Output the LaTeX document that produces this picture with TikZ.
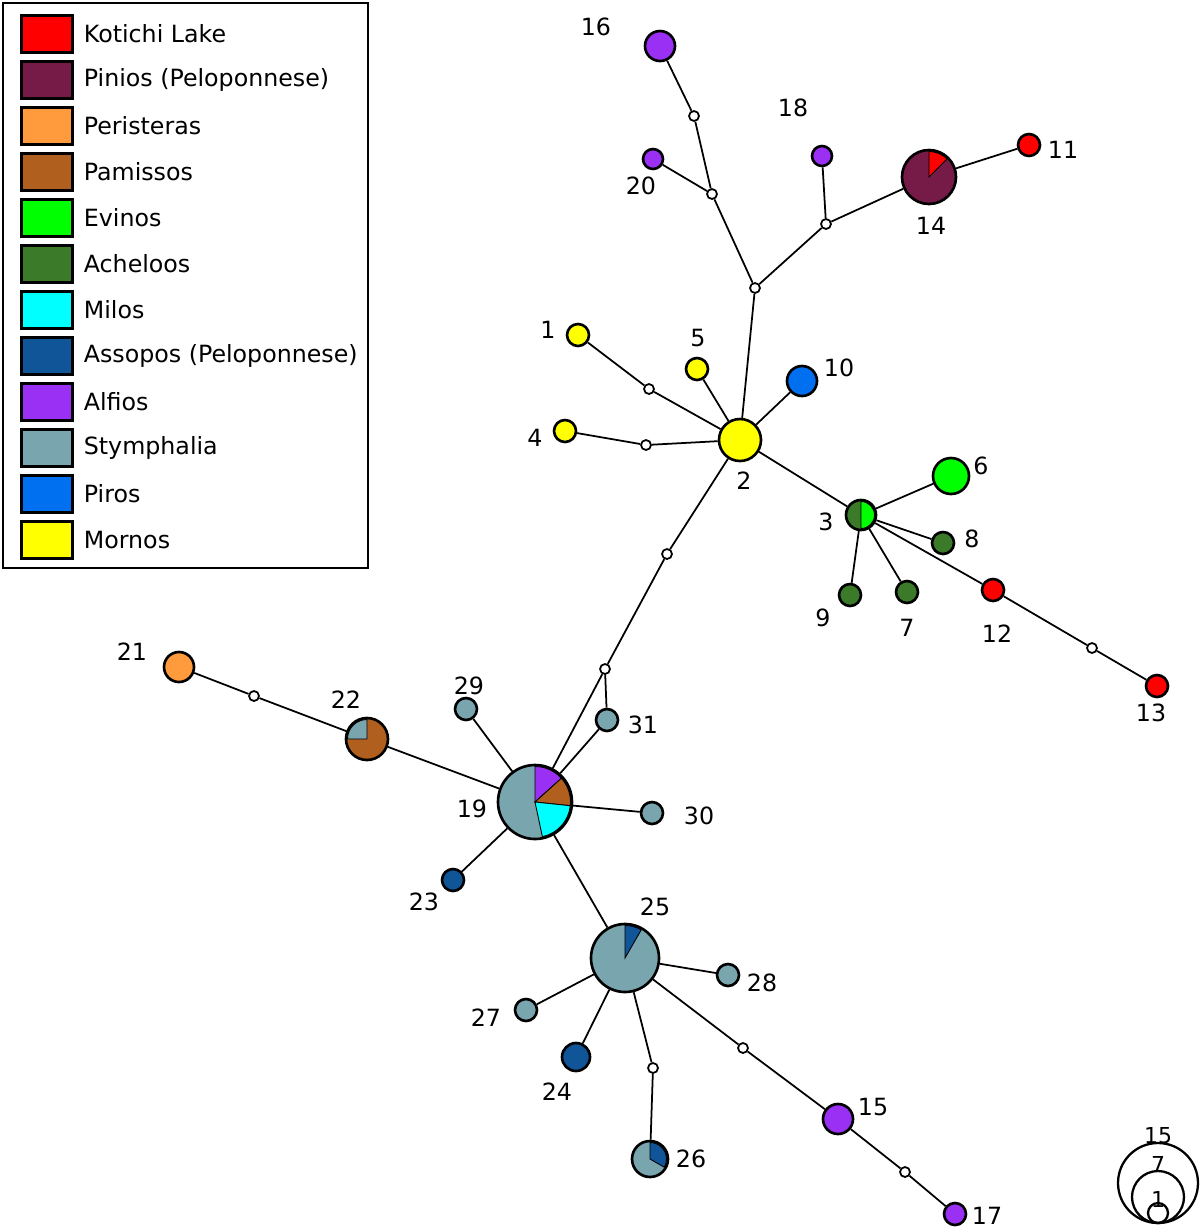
\documentclass[tikz,border=0pt]{standalone}
\usepackage{fontspec}
\setmainfont{DejaVu Sans}

\definecolor{kotichi}{HTML}{FF0000}
\definecolor{pinios}{HTML}{761A48}
\definecolor{peristeras}{HTML}{FF9B3D}
\definecolor{pamissos}{HTML}{B05F1F}
\definecolor{evinos}{HTML}{00FF00}
\definecolor{acheloos}{HTML}{3A7A28}
\definecolor{milos}{HTML}{00FFFF}
\definecolor{assopos}{HTML}{0F5597}
\definecolor{alfios}{HTML}{9B30F5}
\definecolor{stymph}{HTML}{79A5AF}
\definecolor{piros}{HTML}{0070F0}
\definecolor{mornos}{HTML}{FFFF00}

\tikzset{
    hap/.style={shape=circle, draw=black, line width=1.5pt, inner sep=0pt, minimum size=#1*0.02cm},
    mv/.style={shape=circle, draw=black, fill=white, line width=1pt, inner sep=0pt, minimum size=0.2cm},
    swatch/.style={shape=rectangle, draw=black, line width=1.3pt, inner sep=0pt, minimum width=1.02cm, minimum height=0.74cm},
    lbl/.style={font=\fontsize{13.5}{16}\selectfont, inner sep=0pt},
}
% one coloured wedge of a haplotype pie
\newcommand{\hapslice}[5]{\filldraw[fill=#5, draw=black, line width=0.5pt] (#1.center) -- ++(#2:#4) arc[start angle=#2, end angle=#3, radius=#4] -- cycle;}

\begin{document}
\begin{tikzpicture}[x=0.02cm, y=-0.02cm, line width=1pt]
                \useasboundingbox (0,0) rectangle (1200,1228);

                % haplotypes
                \node[hap=30, fill=alfios] (16) at (660,46) {};
                \node[hap=20, fill=alfios] (20) at (653,159) {};
                \node[hap=20, fill=alfios] (18) at (822,156) {};
                \node[hap=54, fill=pinios] (14) at (929,177) {};
                \node[hap=22, fill=kotichi] (11) at (1029,145) {};
                \node[hap=22, fill=mornos] (1) at (578,335) {};
                \node[hap=22, fill=mornos] (5) at (697,369) {};
                \node[hap=30, fill=piros] (10) at (802,381) {};
                \node[hap=22, fill=mornos] (4) at (565,431) {};
                \node[hap=42, fill=mornos] (2) at (740,440) {};
                \node[hap=30, fill=acheloos] (3) at (861,515) {};
                \node[hap=36, fill=evinos] (6) at (951,476) {};
                \node[hap=22, fill=acheloos] (8) at (943,543) {};
                \node[hap=22, fill=acheloos] (9) at (850,595) {};
                \node[hap=22, fill=acheloos] (7) at (907,592) {};
                \node[hap=22, fill=kotichi] (12) at (993,590) {};
                \node[hap=22, fill=kotichi] (13) at (1157,686) {};
                \node[hap=30, fill=peristeras] (21) at (179,667) {};
                \node[hap=42, fill=pamissos] (22) at (367,739) {};
                \node[hap=22, fill=stymph] (29) at (466,709) {};
                \node[hap=22, fill=stymph] (31) at (607,720) {};
                \node[hap=74, fill=stymph] (19) at (535,802) {};
                \node[hap=22, fill=stymph] (30) at (652,813) {};
                \node[hap=22, fill=assopos] (23) at (453,880) {};
                \node[hap=68, fill=stymph] (25) at (625,958) {};
                \node[hap=22, fill=stymph] (28) at (728,975) {};
                \node[hap=22, fill=stymph] (27) at (526,1010) {};
                \node[hap=28, fill=assopos] (24) at (576,1057) {};
                \node[hap=36, fill=stymph] (26) at (650,1159) {};
                \node[hap=30, fill=alfios] (15) at (838,1119) {};
                \node[hap=22, fill=alfios] (17) at (955,1214) {};

                % mixed haplotypes
                \hapslice{14}{90}{45}{0.51cm}{kotichi}
                \hapslice{3}{90}{-90}{0.27cm}{evinos}
                \hapslice{19}{90}{42}{0.71cm}{alfios}
                \hapslice{19}{42}{-6}{0.71cm}{pamissos}
                \hapslice{19}{-6}{-78}{0.71cm}{milos}
                \hapslice{22}{90}{180}{0.39cm}{stymph}
                \hapslice{25}{90}{60}{0.65cm}{assopos}
                \hapslice{26}{90}{-30}{0.33cm}{assopos}

                % median vectors
                \node[mv] (m1) at (694,116) {};
                \node[mv] (m2) at (712,194) {};
                \node[mv] (m3) at (826,224) {};
                \node[mv] (m4) at (755,288) {};
                \node[mv] (m5) at (649,389) {};
                \node[mv] (m6) at (646,445) {};
                \node[mv] (m7) at (1092,648) {};
                \node[mv] (m8) at (667,554) {};
                \node[mv] (m9) at (605,669) {};
                \node[mv] (m10) at (254,696) {};
                \node[mv] (m11) at (653,1068) {};
                \node[mv] (m12) at (743,1048) {};
                \node[mv] (m13) at (905,1172) {};

                \draw[-] (16) edge (m1);
                \draw[-] (m1) edge (m2);
                \draw[-] (20) edge (m2);
                \draw[-] (m2) edge (m4);
                \draw[-] (18) edge (m3);
                \draw[-] (m3) edge (m4);
                \draw[-] (m3) edge (14);
                \draw[-] (14) edge (11);
                \draw[-] (m4) edge (2);

                \draw[-] (1) edge (m5);
                \draw[-] (m5) edge (2);
                \draw[-] (5) edge (2);
                \draw[-] (10) edge (2);
                \draw[-] (4) edge (m6);
                \draw[-] (m6) edge (2);

                \draw[-] (2) edge (3);
                \draw[-] (3) edge (6);
                \draw[-] (3) edge (8);
                \draw[-] (3) edge (9);
                \draw[-] (3) edge (7);
                \draw[-] (3) edge (12);
                \draw[-] (12) edge (m7);
                \draw[-] (m7) edge (13);

                \draw[-] (2) edge (m8);
                \draw[-] (m8) edge (m9);
                \draw[-] (m9) edge (19);
                \draw[-] (m9) edge (31);
                \draw[-] (31) edge (19);

                \draw[-] (21) edge (m10);
                \draw[-] (m10) edge (22);
                \draw[-] (22) edge (19);
                \draw[-] (29) edge (19);
                \draw[-] (19) edge (30);
                \draw[-] (19) edge (23);
                \draw[-] (19) edge (25);

                \draw[-] (25) edge (28);
                \draw[-] (25) edge (27);
                \draw[-] (25) edge (24);
                \draw[-] (25) edge (m11);
                \draw[-] (m11) edge (26);
                \draw[-] (25) edge (m12);
                \draw[-] (m12) edge (15);
                \draw[-] (15) edge (m13);
                \draw[-] (m13) edge (17);

                % haplotype numbers
                \foreach \n/\x/\y in {16/596/27, 20/641/186, 18/793/108, 14/931/226, 11/1063/150,
                        1/548/330, 5/698/338, 10/839/368, 4/535/438, 2/744/481, 3/826/522,
                        6/981/466, 8/972/539, 9/823/618, 7/907/628, 12/997/634, 13/1151/713,
                        21/132/652, 22/346/700, 29/469/686, 31/643/725, 19/472/809, 30/699/816,
                        23/424/902, 25/655/907, 28/762/983, 27/486/1018, 24/557/1092,
                        26/691/1159, 15/873/1107, 17/987/1216}
                    \node[lbl] (l\n) at (\x,\y) {\n};

                % legend
                \draw[line width=1.3pt] (3,3) rectangle (368,568);
                \foreach \c/\t [count=\i from 0] in {kotichi/Kotichi Lake, pinios/Pinios (Peloponnese),
                        peristeras/Peristeras, pamissos/Pamissos, evinos/Evinos, acheloos/Acheloos,
                        milos/Milos, assopos/Assopos (Peloponnese), alfios/Alfios,
                        stymph/Stymphalia, piros/Piros, mornos/Mornos}
                {
                    \node[swatch, fill=\c] (sw\i) at (47,{34+46*\i}) {};
                    \node[lbl, anchor=west] (lg\i) at (83,{34+46*\i}) {\t};
                }

                % circle size scale
                \draw[line width=1.3pt] (1158,1183) circle[radius=0.8cm];
                \draw[line width=1.3pt] (1158,1197) circle[radius=0.52cm];
                \draw[line width=1.3pt] (1158,1213) circle[radius=0.2cm];
                \node[lbl, font=\fontsize{12.5}{14}\selectfont, anchor=base] (s15) at (1158,1143) {15};
                \node[lbl, font=\fontsize{12.5}{14}\selectfont, anchor=base] (s7) at (1158,1172) {7};
                \node[lbl, font=\fontsize{12.5}{14}\selectfont, anchor=base] (s1) at (1158,1207) {1};
\end{tikzpicture}
\end{document}
